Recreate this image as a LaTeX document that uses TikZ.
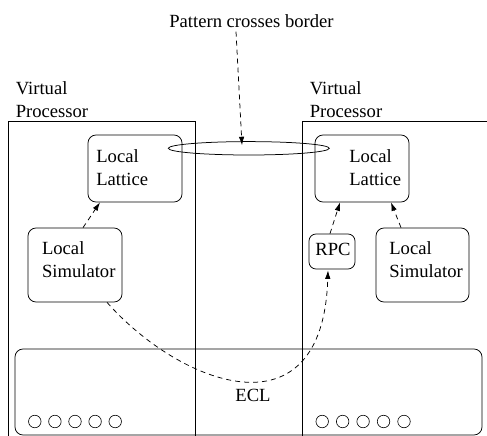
\documentclass[tikz,border=0pt]{standalone}
\usepackage{fontspec}
\setmainfont{Liberation Serif}
\usetikzlibrary{arrows.meta,shapes.geometric}
\begin{document}
\begin{tikzpicture}[x=1pt,y=-1pt,line width=0.75pt,
  rbox/.style={draw,rounded corners=8pt,inner sep=0pt},
  txt/.style={anchor=base west,inner sep=0pt,align=left,font=\fontsize{18.6}{23}\selectfont},
  dot/.style={draw,circle,inner sep=0pt,minimum size=12.5pt,line width=0.6pt},
  dashedarrow/.style={dash pattern=on 5pt off 4pt,-{Latex[length=8.5pt,width=5.5pt]}}]
\useasboundingbox (0,0) rectangle (487,436);
% virtual processor frames
\draw (8,436) -- (8,121) -- (195.5,121) -- (195.5,436);
\draw (302.5,436) -- (302.5,121) -- (487,121);
% labels (base anchor = last line baseline)
\node[txt] (vp1) at (15.5,117.7) {Virtual\\Processor};
\node[txt] (vp2) at (309.5,117.7) {Virtual\\Processor};
\node[txt] (pcb) at (169,28) {Pattern crosses border};
% boxes
\node[rbox,minimum width=94pt,minimum height=67pt] (ll) at (135,168.5) {};
\node[rbox,minimum width=94pt,minimum height=67pt] (rl) at (362,168.5) {};
\node[rbox,minimum width=94pt,minimum height=74pt] (ls) at (75,265) {};
\node[rbox,minimum width=93pt,minimum height=74pt] (rs) at (422.5,265) {};
\node[rbox,rounded corners=7pt,minimum width=46pt,minimum height=35pt] (rpc) at (332,251.5) {};
\node[rbox,minimum width=467pt,minimum height=86pt] (ecl) at (248.5,392) {};
% box texts
\node[txt] (llt) at (96,185) {Local\\Lattice};
\node[txt] (rlt) at (349,185) {Local\\Lattice};
\node[txt] (lst) at (41.7,277.7) {Local\\Simulator};
\node[txt] (rst) at (389,277.7) {Local\\Simulator};
\node[txt,anchor=base] (rpct) at (333,255) {RPC};
\node[txt,anchor=base] (eclt) at (253,401.7) {ECL};
% circles
\foreach \i in {0,...,4} {
  \node[dot] (lc\i) at (34.8+20.1*\i,421.5) {};
  \node[dot] (rc\i) at (322.2+20.45*\i,421.5) {};
}
% ellipse
\node[draw,ellipse,inner sep=0pt,minimum width=161pt,minimum height=13.4pt] (pat) at (248.8,148.3) {};
% connectors
\draw[dashedarrow] ([xshift=-15.5pt,yshift=-3pt]pcb.south) -- ([xshift=-6.8pt,yshift=-4pt]pat.north);
\draw[dashedarrow] ([xshift=8pt]ls.north) -- ([xshift=-35pt]ll.south);
\draw[dashedarrow] ([xshift=-2pt]rpc.north) -- ([xshift=-22pt]rl.south);
\draw[dashedarrow] ([xshift=-21.5pt]rs.north) -- ([xshift=29pt]rl.south);
\draw[dashedarrow] ([xshift=32pt]ls.south) .. controls (180,385) and (323,440) .. ([xshift=-4pt,yshift=-1pt]rpc.south);
\end{tikzpicture}
\end{document}
